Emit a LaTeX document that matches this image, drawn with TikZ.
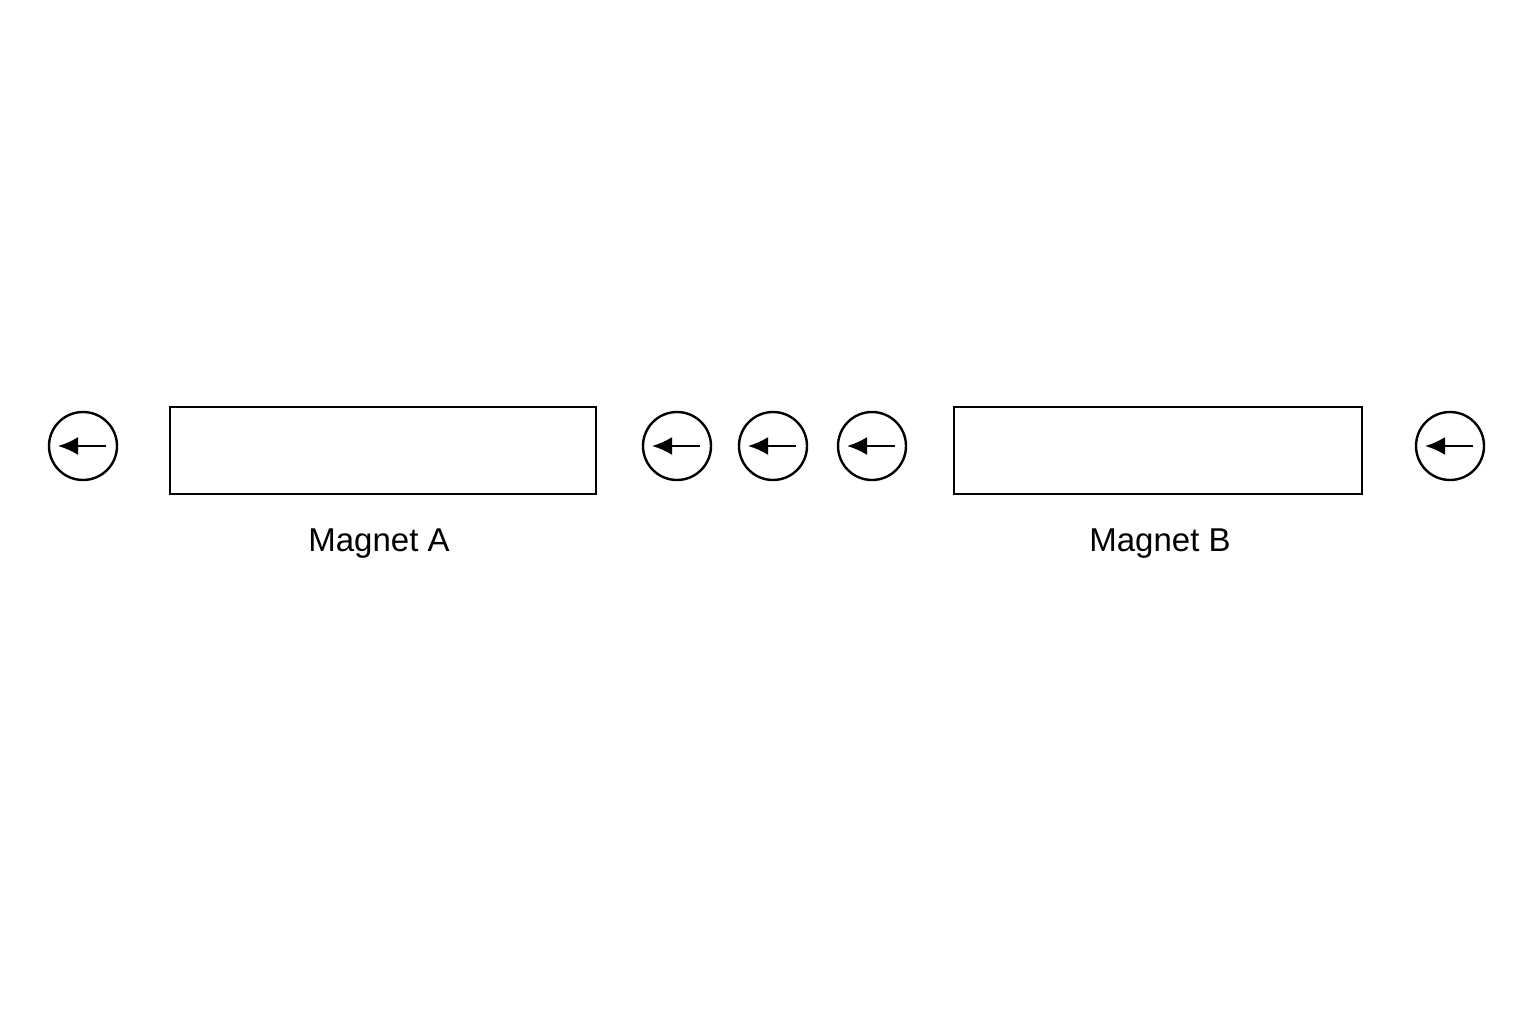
\documentclass[tikz,border=0pt]{standalone}
\usepackage{fontspec}
\setmainfont{Liberation Sans}
\usetikzlibrary{arrows.meta}
\begin{document}
\begin{tikzpicture}[x=1pt,y=-1pt,
  magnet/.style={draw,line width=2.4pt},
  compass/.style={draw,circle,line width=2.4pt,minimum size=68pt,inner sep=0pt},
  needle/.style={line width=2.4pt,-{Latex[length=20pt,width=18pt]}},
  lbl/.style={font=\fontsize{33}{40}\selectfont,inner sep=0pt}]
\useasboundingbox (0,0) rectangle (1536,1024);
\draw[magnet] (170,407) rectangle (596,494);
\node[lbl] (la) at (379,544) {Magnet A};
\draw[magnet] (954,407) rectangle (1362,494);
\node[lbl] (lb) at (1160,544) {Magnet B};
\foreach \n/\x in {c1/83,c2/677,c3/773,c4/872,c5/1450}{
  \node[compass] (\n) at (\x,446) {};
  \coordinate (\n t) at (\x+23,446);
  \coordinate (\n h) at (\x-25,446);
  \draw[needle] (\n t) -- (\n h);
}
\end{tikzpicture}
\end{document}
